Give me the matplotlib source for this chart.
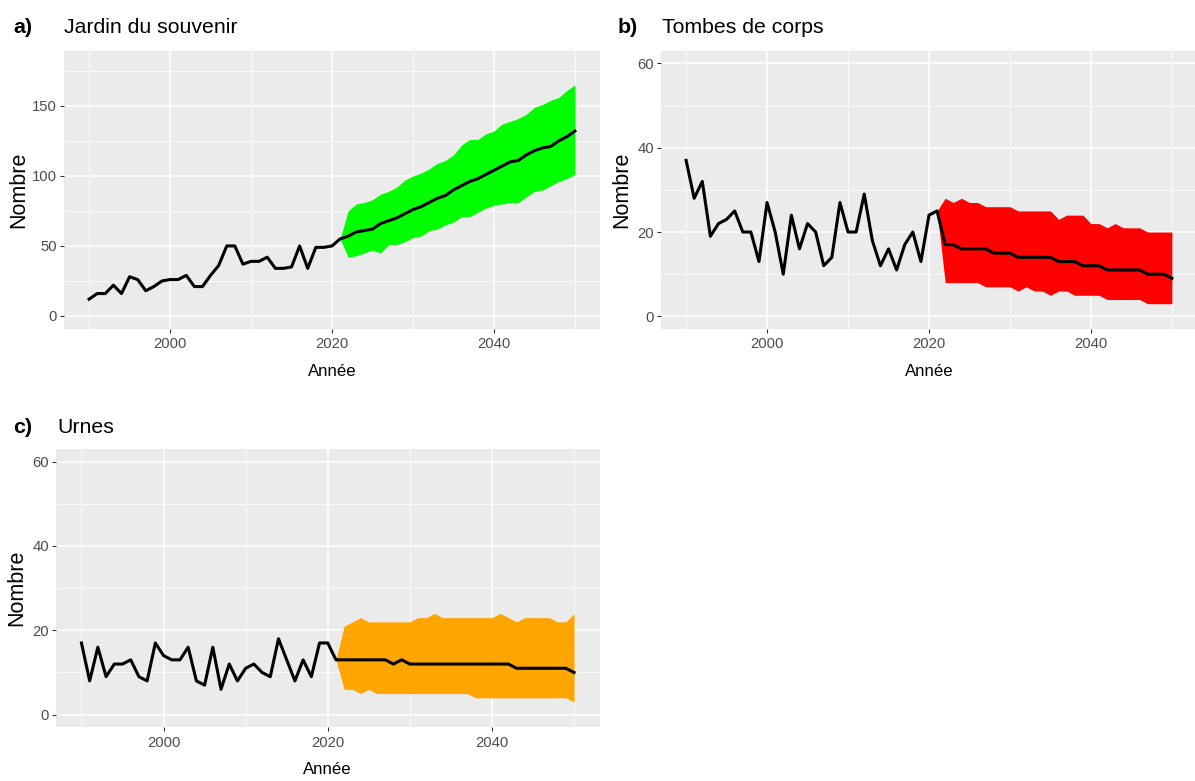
import matplotlib
matplotlib.use("Agg")
import matplotlib.pyplot as plt
from matplotlib import font_manager
from matplotlib.ticker import MultipleLocator
import numpy as np

# ============================================================
# DATA
# ============================================================
years_obs = np.arange(1990, 2021)
years_fc = np.arange(2021, 2051)

jardin_obs = [12, 16, 16, 22, 16, 28, 26, 18, 21, 25, 26, 26, 29, 21, 21, 29,
              36, 50, 50, 37, 39, 39, 42, 34, 34, 35, 50, 34, 49, 49, 50]
jardin_mean = [55, 57, 60, 61, 62, 66, 68, 70, 73, 76, 78, 81, 84, 86, 90,
               93, 96, 98, 101, 104, 107, 110, 111, 115, 118, 120, 121, 125, 128, 132]
jardin_low = [55, 42, 43, 45, 47, 45, 51, 51, 53, 56, 57, 61, 62, 65, 67,
              71, 71, 74, 77, 79, 80, 81, 81, 85, 89, 90, 93, 96, 98, 101]
jardin_high = [55, 75, 80, 81, 83, 87, 89, 92, 97, 100, 102, 105, 109, 111, 115,
               122, 126, 126, 130, 132, 137, 139, 141, 144, 149, 151, 154, 156, 161, 165]

tombes_obs = [37, 28, 32, 19, 22, 23, 25, 20, 20, 13, 27, 20, 10, 24, 16, 22,
              20, 12, 14, 27, 20, 20, 29, 18, 12, 16, 11, 17, 20, 13, 24]
tombes_mean = [25, 17, 17, 16, 16, 16, 16, 15, 15, 15, 14, 14, 14, 14, 14,
               13, 13, 13, 12, 12, 12, 11, 11, 11, 11, 11, 10, 10, 10, 9]
tombes_low = [25, 8, 8, 8, 8, 8, 7, 7, 7, 7, 6, 7, 6, 6, 5,
              6, 6, 5, 5, 5, 5, 4, 4, 4, 4, 4, 3, 3, 3, 3]
tombes_high = [25, 28, 27, 28, 27, 27, 26, 26, 26, 26, 25, 25, 25, 25, 25,
               23, 24, 24, 24, 22, 22, 21, 22, 21, 21, 21, 20, 20, 20, 20]

urnes_obs = [17, 8, 16, 9, 12, 12, 13, 9, 8, 17, 14, 13, 13, 16, 8, 7,
             16, 6, 12, 8, 11, 12, 10, 9, 18, 13, 8, 13, 9, 17, 17]
urnes_mean = [13, 13, 13, 13, 13, 13, 13, 12, 13, 12, 12, 12, 12, 12, 12,
              12, 12, 12, 12, 12, 12, 12, 11, 11, 11, 11, 11, 11, 11, 10]
urnes_low = [13, 6, 6, 5, 6, 5, 5, 5, 5, 5, 5, 5, 5, 5, 5,
             5, 5, 4, 4, 4, 4, 4, 4, 4, 4, 4, 4, 4, 4, 3]
urnes_high = [13, 21, 22, 23, 22, 22, 22, 22, 22, 22, 23, 23, 24, 23, 23,
              23, 23, 23, 23, 23, 24, 23, 22, 23, 23, 23, 23, 22, 22, 24]

tags = ["a)", "b)", "c)"]
titles = ["Jardin du souvenir", "Tombes de corps", "Urnes"]

# ============================================================
# FONTS
# ============================================================
names = {f.name for f in font_manager.fontManager.ttflist}
if "Liberation Sans Narrow" in names:
    NARROW = ["Liberation Sans Narrow", "DejaVu Sans"]
    k = 1.0
else:
    NARROW = ["Liberation Sans", "DejaVu Sans"]
    k = 0.86
WIDE = ["Liberation Sans", "DejaVu Sans"]

# ============================================================
# FIGURE
# ============================================================
W, H = 1195, 781
fig = plt.figure(figsize=(W / 100, H / 100), dpi=100)


def box(left, top, right, bottom):
    return [left / W, 1 - bottom / H, (right - left) / W, (bottom - top) / H]


ax_a = fig.add_axes(box(64, 50.7, 600, 329))
ax_b = fig.add_axes(box(661, 50.7, 1197, 329))
ax_c = fig.add_axes(box(56, 449, 599.5, 727.3))

panels = [
    (ax_a, jardin_obs, jardin_mean, jardin_low, jardin_high, "#00FF00"),
    (ax_b, tombes_obs, tombes_mean, tombes_low, tombes_high, "#FF0000"),
    (ax_c, urnes_obs, urnes_mean, urnes_low, urnes_high, "#FFA500"),
]

for ax, obs, mean, low, high, col in panels:
    ax.set_facecolor("#EBEBEB")
    for s in ax.spines.values():
        s.set_visible(False)
    ax.fill_between(years_fc, low, high, color=col, lw=0, zorder=2)
    yrs = np.concatenate([years_obs, years_fc])
    vals = list(obs) + list(mean)
    ax.plot(yrs, vals, color="black", lw=2.2, zorder=3, solid_joinstyle="round")
    ax.set_xlim(1986.9, 2053.1)
    ax.xaxis.set_major_locator(MultipleLocator(20))
    ax.xaxis.set_minor_locator(MultipleLocator(10))
    ax.grid(which="major", color="white", lw=1.1, zorder=0)
    ax.grid(which="minor", color="white", lw=0.55, zorder=0)
    ax.set_axisbelow(True)
    ax.tick_params(which="major", length=2.9, width=0.8, color="#333333",
                   labelcolor="#4D4D4D", labelsize=12.5 * k)
    ax.tick_params(axis="x", which="major", pad=3.2)
    ax.tick_params(axis="y", which="major", pad=2)
    ax.tick_params(which="minor", length=0)
    ax.set_xlabel("Année", family=NARROW, fontsize=14 * k, va="center")
    ax.xaxis.set_label_coords(0.5, -42 / 278)
    ax.set_ylabel("Nombre", family=WIDE, fontsize=15.5, va="center")

ax_a.set_ylim(-9.3, 189.4)
ax_a.yaxis.set_major_locator(MultipleLocator(50))
ax_a.yaxis.set_minor_locator(MultipleLocator(25))
for ax in (ax_b, ax_c):
    ax.set_ylim(-3, 63)
    ax.yaxis.set_major_locator(MultipleLocator(20))
    ax.yaxis.set_minor_locator(MultipleLocator(10))
for ax in (ax_a, ax_b, ax_c):
    for lab in ax.get_xticklabels() + ax.get_yticklabels():
        lab.set_family(NARROW)

ax_a.yaxis.set_label_coords((19 - 64) / 536, 0.5)
ax_b.yaxis.set_label_coords((622 - 661) / 536, 0.5)
ax_c.yaxis.set_label_coords((17 - 56) / 543.5, 0.5)

# ============================================================
# TAGS AND TITLES
# ============================================================
for (tx, x_title, y_base), tag, title in zip(
        [(13, 64, 33), (618, 662, 33), (13, 57, 433)], tags, titles):
    fig.text(tx / W, 1 - y_base / H, tag, family=NARROW, fontsize=18 * k,
             fontweight="bold", va="baseline", ha="left")
    fig.text(x_title / W, 1 - y_base / H, title, family=NARROW, fontsize=17.8 * k,
             va="baseline", ha="left")

fig.savefig("out.png", dpi=100, facecolor="white")
